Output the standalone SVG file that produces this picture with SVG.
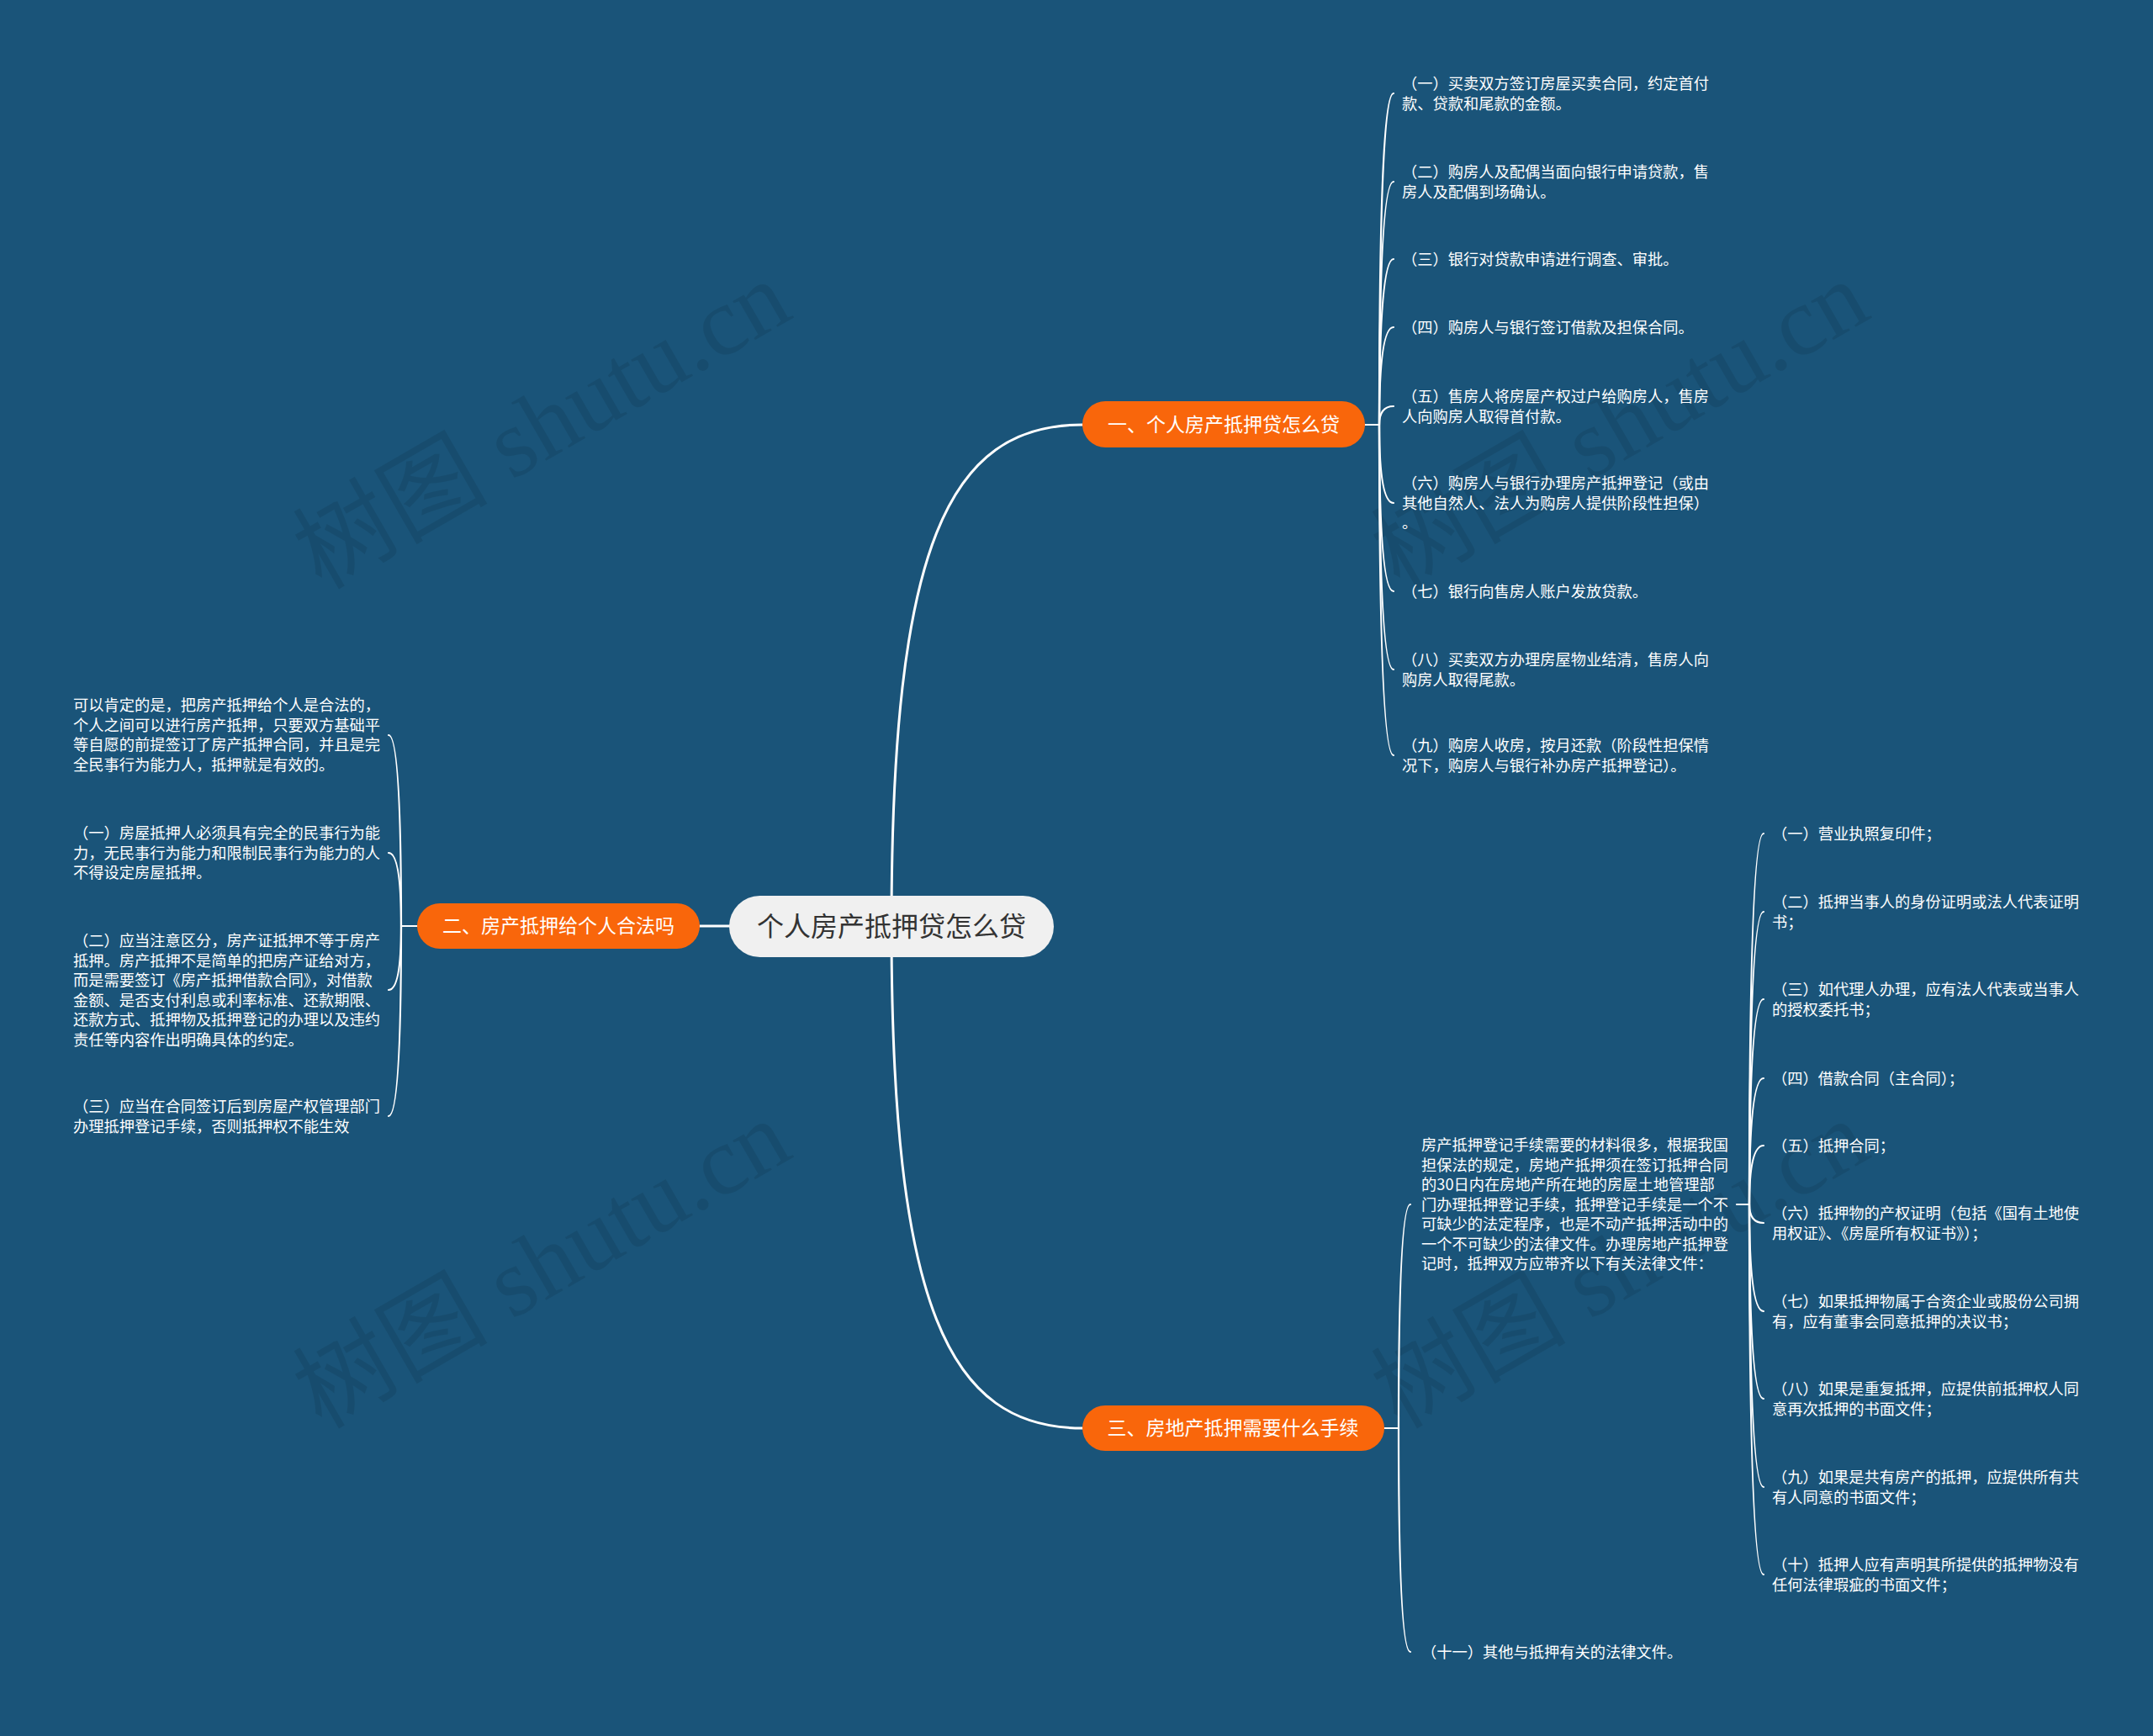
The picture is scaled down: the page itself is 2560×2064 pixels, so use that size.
<svg xmlns="http://www.w3.org/2000/svg" width="2560" height="2064" viewBox="0 0 2560 2064">
<style>
.bg{fill:#1a5479}
.wm{font-family:"Liberation Serif","Noto Sans CJK SC",serif;font-size:116px;fill:#000;fill-opacity:0.09}
.ln{fill:none;stroke:#fff;stroke-width:3;stroke-linecap:round}
.cl{fill:none;stroke:#fff;stroke-width:2.2;stroke-linecap:round}
.root{fill:#f0f0f0}
.rt{font-family:"Noto Sans CJK SC",sans-serif;font-size:32px;fill:#333;text-anchor:middle}
.br{fill:#f9660b}
.bt{font-family:"Noto Sans CJK SC",sans-serif;font-size:23px;fill:#fff;text-anchor:middle}
.t{font-family:"Noto Sans CJK SC",sans-serif;font-size:18.25px;fill:#fff}
</style>
<rect class="bg" x="0" y="0" width="2560" height="2064"/>
<g id="watermarks">
<text class="wm" transform="translate(382,702) rotate(-30)">树图 shutu.cn</text>
<text class="wm" transform="translate(382,1700) rotate(-30)">树图 shutu.cn</text>
<text class="wm" transform="translate(1664,702) rotate(-30)">树图 shutu.cn</text>
<text class="wm" transform="translate(1664,1700) rotate(-30)">树图 shutu.cn</text>
</g>
<g id="connectors">
<path class="ln" d="M1060 1101 C1060 650 1127 505 1287 505"/>
<path class="ln" d="M1060 1101 C1060 1552 1127 1698 1287 1698"/>
<path class="ln" d="M1060 1101 L832 1101"/>
<path class="cl" d="M1623 505 L1640 505"/>
<path class="cl" d="M1640 505 Q1640 111 1657 111"/>
<path class="cl" d="M1640 505 Q1640 216 1657 216"/>
<path class="cl" d="M1640 505 Q1640 308 1657 308"/>
<path class="cl" d="M1640 505 Q1640 389 1657 389"/>
<path class="cl" d="M1640 505 Q1640 483 1657 483"/>
<path class="cl" d="M1640 505 Q1640 598 1657 598"/>
<path class="cl" d="M1640 505 Q1640 703 1657 703"/>
<path class="cl" d="M1640 505 Q1640 796 1657 796"/>
<path class="cl" d="M1640 505 Q1640 898 1657 898"/>
<path class="cl" d="M496 1101 L477 1101"/>
<path class="cl" d="M477 1101 Q477 874 462 874"/>
<path class="cl" d="M477 1101 Q477 1014 462 1014"/>
<path class="cl" d="M477 1101 Q477 1177 462 1177"/>
<path class="cl" d="M477 1101 Q477 1327 462 1327"/>
<path class="cl" d="M1646 1698 L1663 1698"/>
<path class="cl" d="M1663 1698 Q1663 1432 1677 1432"/>
<path class="cl" d="M1663 1698 Q1663 1964 1677 1964"/>
<path class="cl" d="M2065 1432 L2080 1432"/>
<path class="cl" d="M2080 1432 Q2080 991 2097 991"/>
<path class="cl" d="M2080 1432 Q2080 1084 2097 1084"/>
<path class="cl" d="M2080 1432 Q2080 1188 2097 1188"/>
<path class="cl" d="M2080 1432 Q2080 1282 2097 1282"/>
<path class="cl" d="M2080 1432 Q2080 1362 2097 1362"/>
<path class="cl" d="M2080 1432 Q2080 1454 2097 1454"/>
<path class="cl" d="M2080 1432 Q2080 1559 2097 1559"/>
<path class="cl" d="M2080 1432 Q2080 1663 2097 1663"/>
<path class="cl" d="M2080 1432 Q2080 1768 2097 1768"/>
<path class="cl" d="M2080 1432 Q2080 1872 2097 1872"/>
</g>
<g id="root">
<rect class="root" x="867" y="1065" width="386" height="73" rx="36.5"/>
<text class="rt" x="1060" y="1113">个人房产抵押贷怎么贷</text>
</g>
<g id="branch1">
<rect class="br" x="1287" y="477" width="336" height="55" rx="27.5"/>
<text class="bt" x="1455" y="513">一、个人房产抵押贷怎么贷</text>
</g>
<g id="branch2">
<rect class="br" x="496" y="1074" width="336" height="54" rx="27"/>
<text class="bt" x="664" y="1109">二、房产抵押给个人合法吗</text>
</g>
<g id="branch3">
<rect class="br" x="1287" y="1671" width="359" height="54" rx="27"/>
<text class="bt" x="1466" y="1706">三、房地产抵押需要什么手续</text>
</g>
<g id="b1-1"><text class="t" y="106"><tspan x="1667">（一）买卖双方签订房屋买卖合同，约定首付</tspan><tspan x="1667" dy="23.5">款、贷款和尾款的金额。</tspan></text></g>
<g id="b1-2"><text class="t" y="211"><tspan x="1667">（二）购房人及配偶当面向银行申请贷款，售</tspan><tspan x="1667" dy="23.5">房人及配偶到场确认。</tspan></text></g>
<g id="b1-3"><text class="t" y="314.5"><tspan x="1667">（三）银行对贷款申请进行调查、审批。</tspan></text></g>
<g id="b1-4"><text class="t" y="395.5"><tspan x="1667">（四）购房人与银行签订借款及担保合同。</tspan></text></g>
<g id="b1-5"><text class="t" y="478"><tspan x="1667">（五）售房人将房屋产权过户给购房人，售房</tspan><tspan x="1667" dy="23.5">人向购房人取得首付款。</tspan></text></g>
<g id="b1-6"><text class="t" y="581"><tspan x="1667">（六）购房人与银行办理房产抵押登记（或由</tspan><tspan x="1667" dy="23.5">其他自然人、法人为购房人提供阶段性担保）</tspan><tspan x="1667" dy="23.5">。</tspan></text></g>
<g id="b1-7"><text class="t" y="709.5"><tspan x="1667">（七）银行向售房人账户发放贷款。</tspan></text></g>
<g id="b1-8"><text class="t" y="791"><tspan x="1667">（八）买卖双方办理房屋物业结清，售房人向</tspan><tspan x="1667" dy="23.5">购房人取得尾款。</tspan></text></g>
<g id="b1-9"><text class="t" y="893"><tspan x="1667">（九）购房人收房，按月还款（阶段性担保情</tspan><tspan x="1667" dy="23.5">况下，购房人与银行补办房产抵押登记）。</tspan></text></g>
<g id="b2-0"><text class="t" y="845"><tspan x="87">可以肯定的是，把房产抵押给个人是合法的，</tspan><tspan x="87" dy="23.5">个人之间可以进行房产抵押，只要双方基础平</tspan><tspan x="87" dy="23.5">等自愿的前提签订了房产抵押合同，并且是完</tspan><tspan x="87" dy="23.5">全民事行为能力人，抵押就是有效的。</tspan></text></g>
<g id="b2-1"><text class="t" y="997"><tspan x="87">（一）房屋抵押人必须具有完全的民事行为能</tspan><tspan x="87" dy="23.5">力，无民事行为能力和限制民事行为能力的人</tspan><tspan x="87" dy="23.5">不得设定房屋抵押。</tspan></text></g>
<g id="b2-2"><text class="t" y="1125"><tspan x="87">（二）应当注意区分，房产证抵押不等于房产</tspan><tspan x="87" dy="23.5">抵押。房产抵押不是简单的把房产证给对方，</tspan><tspan x="87" dy="23.5">而是需要签订《房产抵押借款合同》，对借款</tspan><tspan x="87" dy="23.5">金额、是否支付利息或利率标准、还款期限、</tspan><tspan x="87" dy="23.5">还款方式、抵押物及抵押登记的办理以及违约</tspan><tspan x="87" dy="23.5">责任等内容作出明确具体的约定。</tspan></text></g>
<g id="b2-3"><text class="t" y="1322"><tspan x="87">（三）应当在合同签订后到房屋产权管理部门</tspan><tspan x="87" dy="23.5">办理抵押登记手续，否则抵押权不能生效</tspan></text></g>
<g id="b3-intro"><text class="t" y="1368"><tspan x="1690">房产抵押登记手续需要的材料很多，根据我国</tspan><tspan x="1690" dy="23.5">担保法的规定，房地产抵押须在签订抵押合同</tspan><tspan x="1690" dy="23.5">的30日内在房地产所在地的房屋土地管理部</tspan><tspan x="1690" dy="23.5">门办理抵押登记手续，抵押登记手续是一个不</tspan><tspan x="1690" dy="23.5">可缺少的法定程序，也是不动产抵押活动中的</tspan><tspan x="1690" dy="23.5">一个不可缺少的法律文件。办理房地产抵押登</tspan><tspan x="1690" dy="23.5">记时，抵押双方应带齐以下有关法律文件：</tspan></text></g>
<g id="b3-11"><text class="t" y="1970.5"><tspan x="1690">（十一）其他与抵押有关的法律文件。</tspan></text></g>
<g id="b3-1"><text class="t" y="997.5"><tspan x="2107">（一）营业执照复印件；</tspan></text></g>
<g id="b3-2"><text class="t" y="1079"><tspan x="2107">（二）抵押当事人的身份证明或法人代表证明</tspan><tspan x="2107" dy="23.5">书；</tspan></text></g>
<g id="b3-3"><text class="t" y="1183"><tspan x="2107">（三）如代理人办理，应有法人代表或当事人</tspan><tspan x="2107" dy="23.5">的授权委托书；</tspan></text></g>
<g id="b3-4"><text class="t" y="1288.5"><tspan x="2107">（四）借款合同（主合同）；</tspan></text></g>
<g id="b3-5"><text class="t" y="1368.5"><tspan x="2107">（五）抵押合同；</tspan></text></g>
<g id="b3-6"><text class="t" y="1449"><tspan x="2107">（六）抵押物的产权证明（包括《国有土地使</tspan><tspan x="2107" dy="23.5">用权证》、《房屋所有权证书》）；</tspan></text></g>
<g id="b3-7"><text class="t" y="1554"><tspan x="2107">（七）如果抵押物属于合资企业或股份公司拥</tspan><tspan x="2107" dy="23.5">有，应有董事会同意抵押的决议书；</tspan></text></g>
<g id="b3-8"><text class="t" y="1658"><tspan x="2107">（八）如果是重复抵押，应提供前抵押权人同</tspan><tspan x="2107" dy="23.5">意再次抵押的书面文件；</tspan></text></g>
<g id="b3-9"><text class="t" y="1763"><tspan x="2107">（九）如果是共有房产的抵押，应提供所有共</tspan><tspan x="2107" dy="23.5">有人同意的书面文件；</tspan></text></g>
<g id="b3-10"><text class="t" y="1867"><tspan x="2107">（十）抵押人应有声明其所提供的抵押物没有</tspan><tspan x="2107" dy="23.5">任何法律瑕疵的书面文件；</tspan></text></g>
</svg>
